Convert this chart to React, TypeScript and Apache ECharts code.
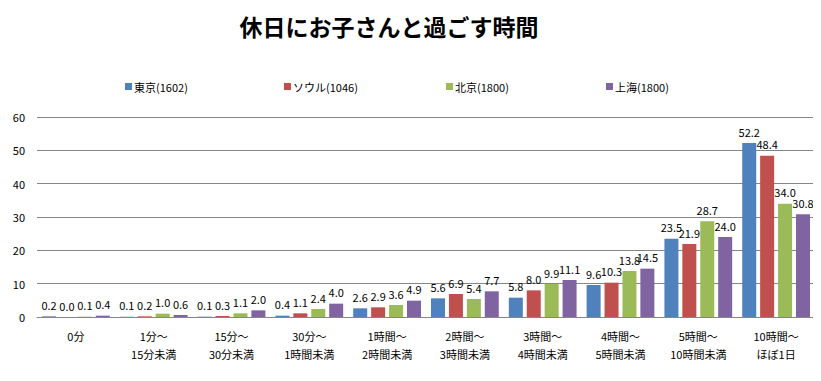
import React, { useEffect, useRef } from "react";
import * as echarts from "echarts";

const categories = [
  "0分",
  "1分〜\n15分未満",
  "15分〜\n30分未満",
  "30分〜\n1時間未満",
  "1時間〜\n2時間未満",
  "2時間〜\n3時間未満",
  "3時間〜\n4時間未満",
  "4時間〜\n5時間未満",
  "5時間〜\n10時間未満",
  "10時間〜\nほぼ1日",
];
const seriesNames = ["東京(1602)", "ソウル(1046)", "北京(1800)", "上海(1800)"];
const tokyo = [0.2, 0.1, 0.1, 0.4, 2.6, 5.6, 5.8, 9.6, 23.5, 52.2];
const seoul = [0.0, 0.2, 0.3, 1.1, 2.9, 6.9, 8.0, 10.3, 21.9, 48.4];
const beijing = [0.1, 1.0, 1.1, 2.4, 3.6, 5.4, 9.9, 13.8, 28.7, 34.0];
const shanghai = [0.4, 0.6, 2.0, 4.0, 4.9, 7.7, 11.1, 14.5, 24.0, 30.8];
const colors = ["#4F81BD", "#C0504D", "#9BBB59", "#8064A2"];
const legendLefts = [125, 284, 446, 606];

const FONT = "'Noto Sans CJK JP', 'Noto Sans', sans-serif";

export default function App() {
  const ref = useRef<HTMLDivElement>(null);
  useEffect(() => {
    if (!ref.current) return;
    const chart = echarts.init(ref.current, undefined, { renderer: "svg" });
    const data = [tokyo, seoul, beijing, shanghai];
    chart.setOption({
      animation: false,
      backgroundColor: "#ffffff",
      title: {
        text: "休日にお子さんと過ごす時間",
        left: 384,
        textAlign: "center",
        top: 9,
        textStyle: { fontFamily: FONT, fontSize: 23, fontWeight: "bold", color: "#000" },
      },
      legend: seriesNames.map((name, i) => ({
        top: 81,
        left: legendLefts[i],
        padding: 0,
        itemWidth: 7,
        itemHeight: 7,
        itemGap: 0,
        icon: "rect",
        textStyle: {
          fontFamily: FONT,
          fontSize: 11,
          color: "#000",
          padding: [0, 0, 0, -3],
        },
        data: [name],
      })),
      grid: { left: 37, right: 6, top: 117, bottom: 64 },
      xAxis: {
        type: "category",
        data: categories,
        axisLine: { lineStyle: { color: "#868686" } },
        axisTick: { show: false },
        axisLabel: {
          interval: 0,
          margin: 10,
          lineHeight: 18,
          fontFamily: FONT,
          fontSize: 11,
          color: "#000",
        },
      },
      yAxis: {
        type: "value",
        min: 0,
        max: 60,
        interval: 10,
        axisLine: { show: false },
        axisTick: { show: false },
        splitLine: { lineStyle: { color: "#868686" } },
        axisLabel: { margin: 12, fontFamily: FONT, fontSize: 11, color: "#000" },
      },
      series: seriesNames.map((name, i) => ({
        name,
        type: "bar",
        data: data[i],
        barWidth: 14,
        barGap: "28%",
        itemStyle: { color: colors[i] },
        label: {
          show: true,
          position: "top",
          distance: 6,
          formatter: (p: any) => Number(p.value).toFixed(1),
          fontFamily: FONT,
          fontSize: 11,
          color: "#000",
        },
      })),
    });
    return () => chart.dispose();
  }, []);
  return <div ref={ref} style={{ width: 821, height: 381, margin: -8 }} />;
}
